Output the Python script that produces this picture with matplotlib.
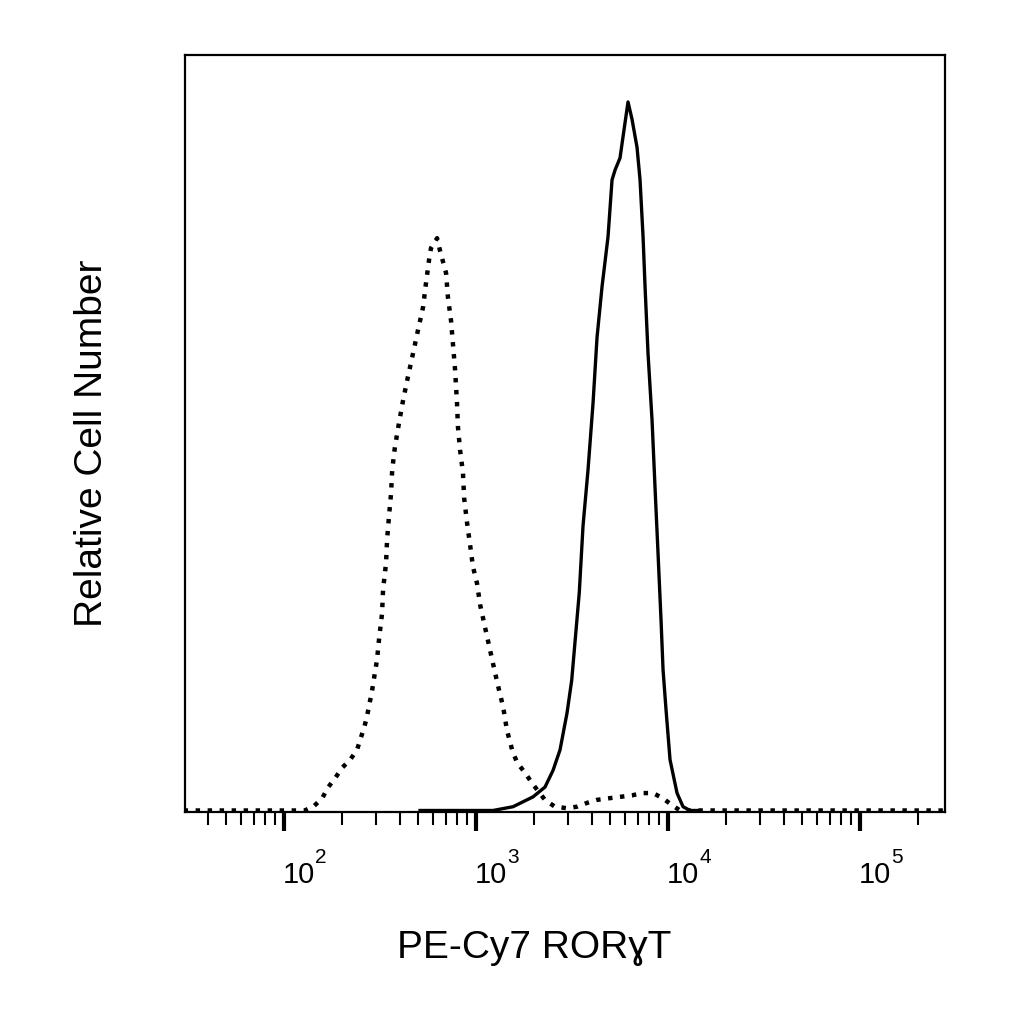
import numpy as np
import matplotlib
matplotlib.use("Agg")
import matplotlib.pyplot as plt
from matplotlib.ticker import LogLocator, NullFormatter, FixedLocator

plt.rcParams['font.family'] = ['Liberation Sans', 'DejaVu Sans']

# isotype control (dotted) - fluorescence intensity / relative count (% of max scale)
iso_x = [30, 128, 142, 158, 169, 185, 200, 221, 240, 249, 261, 270, 277, 287, 294,
         305, 313, 324, 328, 340, 344, 352, 361, 366, 378, 397, 417, 442, 470, 499,
         530, 549, 569, 583, 627, 650, 673, 698, 714, 741, 759, 778, 796, 805, 826,
         855, 867, 897, 931, 964, 1012, 1050, 1114, 1183, 1256, 1318, 1384, 1449,
         1542, 1637, 1799, 1959, 2286, 2576, 2979, 3357, 3784, 4266, 4875, 5623,
         6501, 7328, 8356, 9419, 10500, 11560, 277000]
iso_y = [0.2, 0.2, 0.7, 1.8, 3.2, 4.5, 5.8, 6.9, 8.2, 9.5, 11.1, 12.5, 14.0, 15.9, 17.6,
         20.1, 23.0, 26.2, 29.4, 32.9, 35.9, 39.0, 42.1, 45.2, 48.2, 51.4, 54.4, 57.5,
         60.6, 63.7, 66.7, 69.9, 72.9, 74.5, 75.8, 74.1, 72.7, 71.2, 68.0, 64.9, 61.7,
         58.4, 54.0, 50.9, 47.8, 44.8, 41.5, 38.3, 35.3, 32.4, 30.2, 27.4, 24.4, 21.4,
         18.4, 16.1, 13.9, 10.8, 8.2, 6.5, 5.2, 3.8, 1.6, 0.7, 0.5, 0.7, 1.2, 1.6, 1.8,
         2.0, 2.2, 2.5, 2.5, 1.8, 0.9, 0.2, 0.2]

# anti-RORgT stained sample (solid)
ror_x = [511, 1226, 1559, 1981, 2288, 2518, 2738, 2979, 3150, 3450, 3608, 3831, 4068,
         4268, 4532, 4870, 5109, 5297, 5623, 5829, 6189, 6494, 6895, 7149, 7411, 7591,
         7866, 8254, 8555, 8869, 9193, 9419, 9763, 10243, 11140, 11970, 13020, 14680]
ror_y = [0.2, 0.2, 0.7, 2.0, 3.3, 5.5, 8.2, 13.1, 17.4, 29.0, 37.8, 45.2, 54.0,
         62.7, 69.4, 76.0, 83.5, 84.8, 86.4, 89.2, 93.8, 91.5, 87.8, 83.5, 76.0, 69.4,
         60.6, 51.8, 42.9, 34.2, 25.4, 18.8, 13.5, 6.9, 2.5, 0.7, 0.2, 0.2]

decades = [1e2, 1e3, 1e4, 1e5]
exponents = ["2", "3", "4", "5"]

fig = plt.figure(figsize=(10.24, 10.24), dpi=100)
ax = fig.add_axes([185 / 1024, 1 - 812 / 1024, 760 / 1024, 757 / 1024])

ax.plot(iso_x, iso_y, color="black", lw=3.2, linestyle=(0, (1, 1.7)), zorder=2)
ax.plot(ror_x, ror_y, color="black", lw=2.4, zorder=3)

ax.set_xscale("log")
ax.set_xlim(30.5, 277000)
ax.set_ylim(0, 100)

ax.xaxis.set_major_locator(FixedLocator(decades))
ax.xaxis.set_minor_locator(LogLocator(base=10, subs=np.arange(2, 10)))
ax.xaxis.set_minor_formatter(NullFormatter())
ax.tick_params(axis="x", which="major", direction="out", length=14, width=3,
               labelbottom=False)
ax.tick_params(axis="x", which="minor", direction="out", length=9, width=1.5)
ax.set_yticks([])

# FlowJo-style decade labels: "10" with a raised exponent, starting at the tick
for d, e in zip(decades, exponents):
    ax.annotate("10", xy=(d, 0), xycoords=("data", "axes fraction"),
                xytext=(-1, -71), textcoords="offset pixels",
                ha="left", va="baseline", fontsize=21)
    ax.annotate(e, xy=(d, 0), xycoords=("data", "axes fraction"),
                xytext=(31, -51), textcoords="offset pixels",
                ha="left", va="baseline", fontsize=15)

for sp in ax.spines.values():
    sp.set_linewidth(1.6)
    sp.set_zorder(4)

fig.text(534 / 1024, 1 - 948 / 1024, "PE-Cy7 ROR\u0263T", fontsize=28,
         ha="center", va="center")
fig.text(92 / 1024, 1 - 443 / 1024, "Relative Cell Number", fontsize=28,
         ha="center", va="center", rotation=90)

fig.savefig("out.png", dpi=100, facecolor="white")
